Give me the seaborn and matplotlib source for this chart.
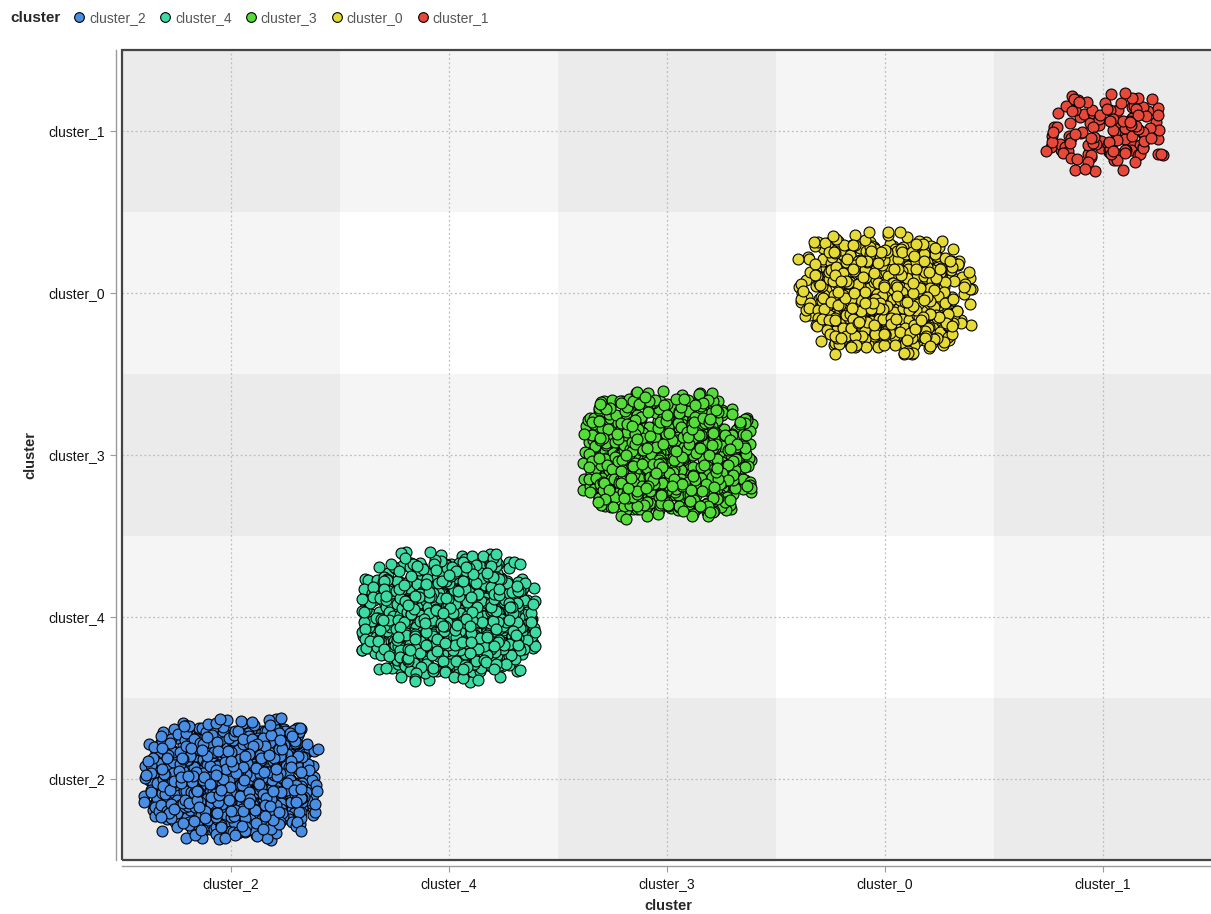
import numpy as np
import pandas as pd
import seaborn as sns
from matplotlib import pyplot as plt
from matplotlib.lines import Line2D
from matplotlib.patches import Rectangle

# cluster order on both axes, and how many points each cluster holds
clusters = ["cluster_2", "cluster_4", "cluster_3", "cluster_0", "cluster_1"]
counts = [1100, 1000, 950, 700, 130]
colors = ["#4a8ee4", "#3ddaa4", "#55dc3a", "#e6da38", "#e8483a"]

# rough spread of each blob (in category units)
spread_x = [0.40, 0.40, 0.39, 0.40, 0.28]
spread_y = [0.38, 0.40, 0.40, 0.38, 0.25]

sns.set_style("white")
plt.rcParams["font.family"] = ["Liberation Sans", "DejaVu Sans"]

rows = []
for name, n in zip(clusters, counts):
    rows += [name] * n
df = pd.DataFrame({"cluster": rows})
df["pos"] = df["cluster"].map({c: i for i, c in enumerate(clusters)})

fig = plt.figure(figsize=(12.11, 9.14), dpi=100)
ax = fig.add_axes([122 / 1211, 54 / 914, (1214 - 122) / 1211, 810 / 914])

# striped background: darker columns and rows alternate
for i in range(len(clusters)):
    if i % 2 == 0:
        ax.axvspan(i - 0.5, i + 0.5, color="black", alpha=0.04, lw=0, zorder=0)
        ax.axhspan(i - 0.5, i + 0.5, color="black", alpha=0.04, lw=0, zorder=0)

# jitter in a few layers (wide/flat, middle, narrow/tall) so blobs look round
layers = [(0.35, 1.0, 0.6), (0.4, 0.82, 0.85), (0.25, 0.6, 1.0)]

np.random.seed(3)
for i, name in enumerate(clusters):
    sub = df[df["cluster"] == name].reset_index(drop=True)
    start = 0
    for frac, fx, fy in layers:
        n = int(round(frac * len(sub)))
        part = sub.iloc[start:start + n]
        start += n
        sns.regplot(data=part, x="pos", y="pos", fit_reg=False, ax=ax,
                    x_jitter=spread_x[i] * fx, y_jitter=spread_y[i] * fy,
                    color=colors[i],
                    scatter_kws=dict(s=62, edgecolor="black", linewidths=0.8,
                                     alpha=1, zorder=3))

ax.set_xlim(-0.5, -0.5 + (1214 - 122) / 218)
ax.set_ylim(-0.5, 4.5)
ax.set_xticks(range(len(clusters)))
ax.set_yticks(range(len(clusters)))
ax.set_xticklabels(clusters, fontsize=11)
ax.set_yticklabels(clusters, fontsize=11)
ax.set_xlabel("cluster", fontsize=10.5, fontweight="bold", labelpad=6)
ax.set_ylabel("cluster", fontsize=10.5, fontweight="bold", labelpad=8)
ax.grid(True, color="#bdbdbd", linestyle=(0, (1.5, 2)), linewidth=0.9, zorder=1)
ax.set_axisbelow(True)

ax.spines["top"].set_visible(False)
ax.spines["right"].set_visible(False)
for side in ["left", "bottom"]:
    ax.spines[side].set_position(("outward", 4))
    ax.spines[side].set_color("#9a9a9a")
    ax.spines[side].set_linewidth(1.0)
ax.tick_params(axis="both", direction="out", length=4, color="#9a9a9a",
               width=0.8, pad=4, labelcolor="#111111", bottom=True, left=True)
ax.add_patch(Rectangle((0, 0), 1, 1, transform=ax.transAxes, fill=False,
                       edgecolor="#444444", linewidth=1.6, clip_on=False, zorder=5))

# legend along the top
fig.text(10 / 1211, 1 - 18 / 914, "cluster", fontsize=11, fontweight="bold",
         va="center", ha="left")
handles = [Line2D([], [], marker="o", linestyle="", markersize=7,
                  markerfacecolor=c, markeredgecolor="black", markeredgewidth=0.8)
           for c in colors]
leg = fig.legend(handles, clusters, loc="center left", ncol=5,
                 bbox_to_anchor=(71 / 1211, 1 - 18 / 914), frameon=False,
                 fontsize=10, handletextpad=0.1, columnspacing=0.8,
                 handlelength=1.2, borderaxespad=0, borderpad=0)
for t in leg.get_texts():
    t.set_color("#555555")

plt.savefig("out.png", dpi=100)
